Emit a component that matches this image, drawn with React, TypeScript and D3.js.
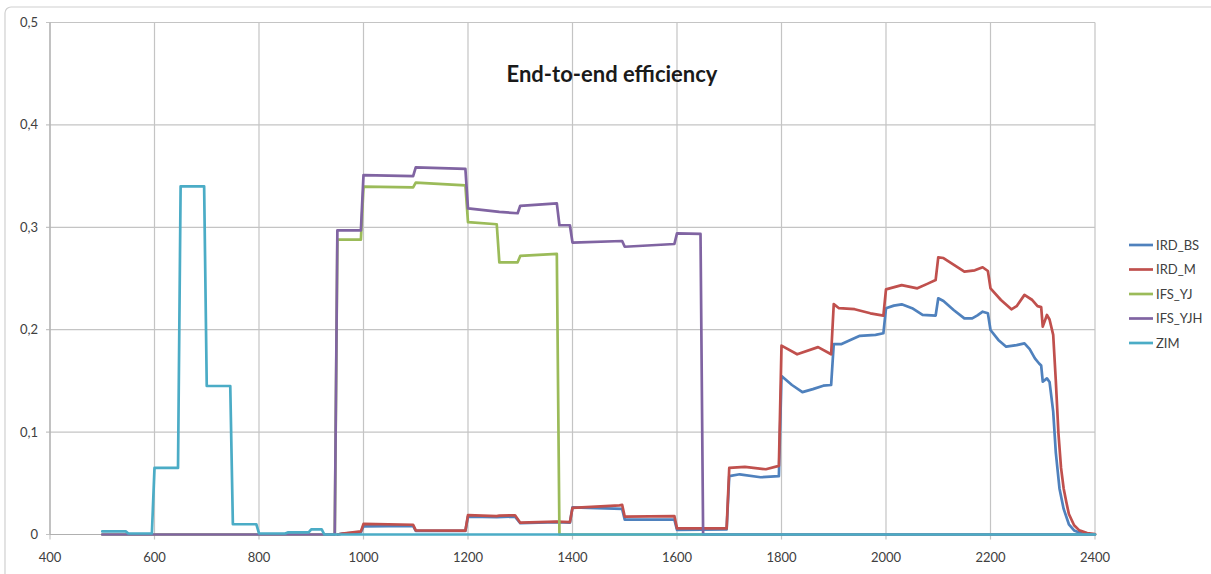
import React from "react";
import * as d3 from "d3";

type P = [number, number];

const seriesNames = ["IRD_BS", "IRD_M", "IFS_YJ", "IFS_YJH", "ZIM"];
const seriesColors = ["#4F81BD", "#C0504D", "#9BBB59", "#8064A2", "#4BACC6"];
const xTicks = [400, 600, 800, 1000, 1200, 1400, 1600, 1800, 2000, 2200, 2400];
const yTicks = [0, 0.1, 0.2, 0.3, 0.4, 0.5];
const yTickLabels = ["0", "0,1", "0,2", "0,3", "0,4", "0,5"];
const title = "End-to-end efficiency";

const irdBS: P[] = [
  [950, 0], [960, 0.001], [995, 0.002], [1000, 0.008], [1095, 0.0085], [1100, 0.0035], [1195, 0.0035],
  [1200, 0.0175], [1255, 0.017], [1290, 0.0175], [1300, 0.011], [1370, 0.012], [1395, 0.0115],
  [1400, 0.0265], [1495, 0.025], [1500, 0.0145], [1595, 0.0145], [1600, 0.0045], [1695, 0.005],
  [1700, 0.057], [1720, 0.0588], [1760, 0.0559], [1795, 0.057], [1800, 0.1548], [1820, 0.146],
  [1840, 0.139], [1860, 0.142], [1880, 0.1453], [1895, 0.146], [1900, 0.186], [1915, 0.186],
  [1935, 0.1906], [1950, 0.194], [1980, 0.195], [1995, 0.1965], [2000, 0.2209], [2015, 0.2235],
  [2030, 0.2248], [2050, 0.221], [2070, 0.2144], [2095, 0.2137], [2100, 0.2307], [2110, 0.228],
  [2130, 0.219], [2150, 0.211], [2165, 0.211], [2175, 0.214], [2185, 0.2176], [2195, 0.216],
  [2200, 0.1997], [2215, 0.19], [2230, 0.1834], [2250, 0.185], [2265, 0.1867], [2275, 0.181],
  [2285, 0.172], [2293, 0.167], [2297, 0.165], [2300, 0.1492], [2308, 0.1525], [2313, 0.149],
  [2320, 0.12], [2325, 0.08], [2332, 0.045], [2340, 0.025], [2350, 0.01], [2360, 0.004],
  [2375, 0.001], [2385, 0],
];

const irdM: P[] = [
  [950, 0], [960, 0.001], [995, 0.003], [1000, 0.0103], [1095, 0.0095], [1100, 0.004], [1195, 0.0037],
  [1200, 0.019], [1255, 0.018], [1260, 0.0185], [1290, 0.0188], [1300, 0.0115], [1370, 0.0125],
  [1395, 0.012], [1400, 0.026], [1490, 0.0285], [1495, 0.029], [1500, 0.0174], [1595, 0.018],
  [1600, 0.006], [1695, 0.006], [1700, 0.065], [1730, 0.066], [1770, 0.0637], [1795, 0.067],
  [1800, 0.1844], [1830, 0.176], [1870, 0.183], [1895, 0.176], [1900, 0.225], [1910, 0.221],
  [1940, 0.22], [1970, 0.216], [1995, 0.2137], [2000, 0.2394], [2030, 0.2435], [2060, 0.2404],
  [2080, 0.245], [2095, 0.2485], [2100, 0.2707], [2110, 0.27], [2150, 0.2567], [2170, 0.258],
  [2185, 0.261], [2195, 0.2573], [2200, 0.2404], [2220, 0.229], [2240, 0.2199], [2250, 0.223],
  [2265, 0.234], [2280, 0.229], [2290, 0.223], [2297, 0.222], [2300, 0.203], [2308, 0.2144],
  [2313, 0.21], [2320, 0.195], [2325, 0.15], [2330, 0.099], [2335, 0.065], [2340, 0.045],
  [2345, 0.032], [2350, 0.02], [2360, 0.009], [2370, 0.004], [2385, 0.0015], [2400, 0.0005],
];

const ifsYJ: P[] = [
  [500, 0], [945, 0], [950, 0.288], [995, 0.288], [1000, 0.3397], [1095, 0.339], [1100, 0.3436],
  [1195, 0.341], [1200, 0.305], [1255, 0.303], [1260, 0.2658], [1295, 0.2658], [1300, 0.272],
  [1370, 0.274], [1375, 0], [2400, 0],
];

const ifsYJH: P[] = [
  [500, 0], [945, 0], [950, 0.297], [995, 0.297], [1000, 0.351], [1095, 0.35], [1100, 0.3586],
  [1195, 0.357], [1200, 0.3185], [1260, 0.315], [1295, 0.3137], [1300, 0.321], [1370, 0.3234],
  [1375, 0.302], [1395, 0.302], [1400, 0.285], [1495, 0.2866], [1500, 0.281], [1595, 0.2837],
  [1600, 0.294], [1645, 0.2935], [1650, 0], [2400, 0],
];

const zim: P[] = [
  [500, 0.003], [545, 0.003], [550, 0.001], [595, 0.001], [600, 0.065], [645, 0.065], [650, 0.34],
  [695, 0.34], [700, 0.145], [745, 0.145], [750, 0.01], [795, 0.01], [800, 0.001], [850, 0.001],
  [855, 0.002], [895, 0.002], [900, 0.005], [920, 0.005], [925, 0], [2400, 0],
];

const seriesData = [irdBS, irdM, ifsYJ, ifsYJH, zim];

export default function App() {
  const W = 1211, H = 574;
  const x = d3.scaleLinear().domain([400, 2400]).range([50, 1095]);
  const y = d3.scaleLinear().domain([0, 0.5]).range([534.5, 22.5]);
  const line = d3.line<P>().x((d) => x(d[0])).y((d) => y(d[1])).curve(d3.curveLinear);
  const font = "Lato, 'Open Sans', sans-serif";
  const grid = "#c4c4c4";
  return (
    <svg width={W} height={H} style={{ position: "absolute", left: 0, top: 0, background: "#fff" }}>
      <rect x={5} y={7} width={1300} height={700} rx={6} fill="#fff" stroke="#d0d0d0" strokeWidth={1.2} />
      {xTicks.map((t) => (
        <line key={"gx" + t} x1={x(t)} x2={x(t)} y1={y(0.5)} y2={y(0) + 5} stroke={grid} strokeWidth={1.2} />
      ))}
      {yTicks.map((t) => (
        <line key={"gy" + t} x1={x(400) - 4} x2={x(2400)} y1={y(t)} y2={y(t)} stroke={grid} strokeWidth={1.2} />
      ))}
      <line x1={x(400)} x2={x(400)} y1={y(0.5)} y2={y(0)} stroke="#b0b0b0" strokeWidth={1.2} />
      <line x1={x(400)} x2={x(2400)} y1={y(0)} y2={y(0)} stroke="#b0b0b0" strokeWidth={1.2} />
      {yTicks.map((t, i) => (
        <text key={"ty" + t} x={38} y={y(t) + 4.5} textAnchor="end" fontFamily={font} fontSize={13} fill="#404040">
          {yTickLabels[i]}
        </text>
      ))}
      {xTicks.map((t) => (
        <text key={"tx" + t} x={x(t)} y={562} textAnchor="middle" fontFamily={font} fontSize={13} fill="#404040">
          {t}
        </text>
      ))}
      {seriesData.map((d, i) => (
        <path key={"s" + i} d={line(d) || ""} fill="none" stroke={seriesColors[i]} strokeWidth={2.7} strokeLinejoin="round" strokeLinecap="round" />
      ))}
      <text x={612} y={81.5} textAnchor="middle" fontFamily={font} fontWeight="bold" fontSize={22} fill="#1a1a1a">
        {title}
      </text>
      {seriesNames.map((n, i) => (
        <g key={"lg" + n} transform={`translate(0, ${245 + i * 24.5})`}>
          <line x1={1129} x2={1153} y1={0} y2={0} stroke={seriesColors[i]} strokeWidth={2.7} />
          <text x={1156} y={4.5} fontFamily={font} fontSize={13} fill="#404040">{n}</text>
        </g>
      ))}
    </svg>
  );
}
